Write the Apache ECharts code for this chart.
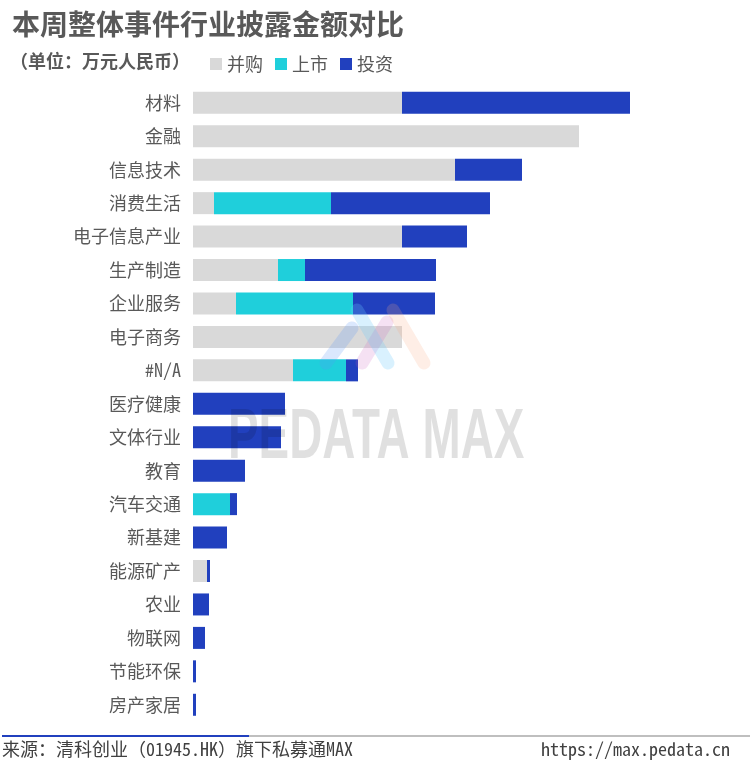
<!DOCTYPE html>
<html><head><meta charset="utf-8">
<style>html,body{margin:0;padding:0;background:#fff}#c{width:752px;height:762px}</style>
<script src="https://cdn.jsdelivr.net/npm/echarts@6/dist/echarts.min.js"></script></head>
<body><div id="c"></div>
<script>
const FONT = '"Noto Sans Mono CJK SC","Noto Sans CJK SC",monospace';
const categories = ['材料','金融','信息技术','消费生活','电子信息产业','生产制造','企业服务','电子商务','#N/A','医疗健康','文体行业','教育','汽车交通','新基建','能源矿产','农业','物联网','节能环保','房产家居'];
const mergers = [2090,3860,2620,210,2090,850,430,2090,1000,0,0,0,0,0,140,0,0,0,0];
const ipos    = [0,0,0,1170,0,270,1170,0,530,0,0,0,370,0,0,0,0,0,0];
const invests = [2280,0,670,1590,650,1310,820,0,120,920,880,520,70,340,30,160,120,30,30];
const seriesNames = ['并购','上市','投资'];
const seriesColors = ['#D9D9D9','#1FCFDB','#2140BE'];
const seriesData = [mergers, ipos, invests];

const chart = echarts.init(document.getElementById('c'), null, {renderer:'canvas'});
const stroke = (x1,y1,x2,y2,color) => ({type:'line',z:50,silent:true,
  shape:{x1,y1,x2,y2},style:{stroke:color,lineWidth:13,lineCap:'round'}});
chart.setOption({
  animation:false,
  backgroundColor:'#fff',
  grid:{left:193,top:86.1,width:550,height:635.4,containLabel:false},
  xAxis:{type:'value',min:0,max:5500,show:false},
  yAxis:{type:'category',inverse:true,data:categories,
    axisLine:{show:false},axisTick:{show:false},
    axisLabel:{fontFamily:FONT,fontSize:18,color:'#595959',margin:12}},
  legend:{left:210,top:55,padding:0,itemWidth:12,itemHeight:12,itemGap:12,icon:'rect',
    selectedMode:false,data:seriesNames,
    textStyle:{fontFamily:FONT,fontSize:18,color:'#595959'}},
  series:seriesNames.map((n,i)=>({name:n,type:'bar',stack:'t',barWidth:22,
    itemStyle:{color:seriesColors[i]},data:seriesData[i],silent:true})),
  graphic:[
    {type:'text',left:12,top:10,z:60,style:{text:'本周整体事件行业披露金额对比',font:'bold 28px '+FONT,fill:'#595959'}},
    {type:'text',left:10,top:52,z:60,style:{text:'（单位：万元人民币）',font:'bold 18px '+FONT,fill:'#595959'}},
    {type:'line',z:60,shape:{x1:2,y1:736,x2:750,y2:736},style:{stroke:'#BFBFBF',lineWidth:2}},
    {type:'line',z:61,shape:{x1:2,y1:736,x2:249,y2:736},style:{stroke:'#2140BE',lineWidth:2}},
    {type:'text',left:2,top:740,z:60,style:{text:'来源：清科创业（01945.HK）旗下私募通MAX',font:'18px '+FONT,fill:'#404040'}},
    {type:'text',left:541,top:740,z:60,style:{text:'https://max.pedata.cn',font:'18px '+FONT,fill:'#404040'}},
    stroke(326,363,352,328,'rgba(90,150,245,0.22)'),
    stroke(362,363,387,322,'rgba(200,90,190,0.18)'),
    stroke(393,310,424,363,'rgba(250,170,130,0.2)'),
    stroke(357,310,388,363,'rgba(110,200,250,0.26)'),
    {type:'text',x:228,y:404,scaleX:0.655,z:50,silent:true,style:{text:'PEDATA MAX',font:'bold 70px "Liberation Sans",sans-serif',fill:'rgba(0,0,0,0.12)'}}
  ]
});
</script></body></html>
